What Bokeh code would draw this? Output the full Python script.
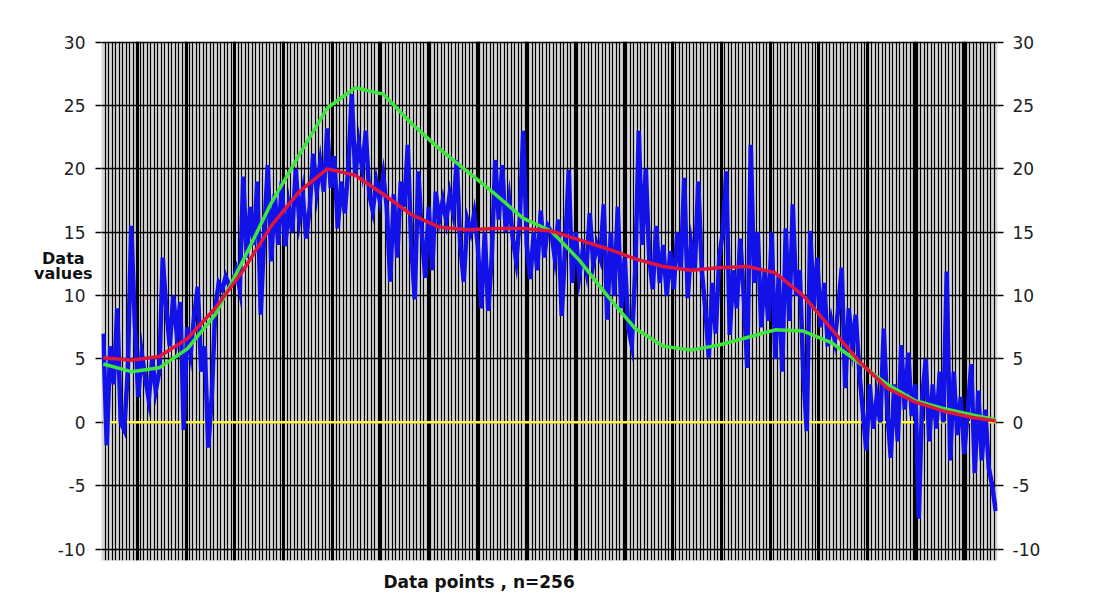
from bokeh.plotting import figure
from bokeh.models import (Range1d, LinearAxis, FixedTicker, Grid, Title, Label,
                          PrintfTickFormatter)
from bokeh.embed import file_html
from bokeh.resources import INLINE

# ---- data -------------------------------------------------------------
blue_values = [
    7, -1.8, 6, 3, 9, 0, -0.6, 4, 15.5, 8, 2, 5.5, 3.5, 1.8, 5, 2.5,
    4, 13, 9, 6, 10, 7, 9.5, -0.6, 7.5, 5.5, 8.5, 10.7, 4, 6, -2, 2,
    9, 11, 10.5, 11.5, 10.8, 11, 12, 10.5, 19.4, 13, 17, 14, 19, 8.5, 15, 20.3,
    12.7, 18, 14, 19, 13.9, 17, 15, 20, 16, 18, 14.5, 17, 21.2, 18.2, 20.5, 18.2,
    23.2, 18.5, 21, 15.3, 19, 16.5, 20, 25.9, 19.5, 22, 20, 23, 18, 16.7, 19, 17.5,
    19.5, 17, 11.1, 18, 13, 19, 17, 21.9, 14, 9.7, 19.8, 15, 11.4, 17, 12, 18.2,
    16, 17.5, 15.9, 18, 16.5, 20.7, 14, 11.1, 16, 15, 16.5, 14, 9, 15, 8.8, 13,
    20.7, 16, 20.3, 15, 17.5, 14.5, 12.7, 16, 23, 14, 11.3, 15, 12, 16.7, 13, 15.5,
    15, 13, 16, 8.4, 14, 19.9, 11, 15, 11.5, 13.5, 12, 16.5, 12.5, 14, 13, 17.2,
    8.1, 15, 10, 17, 9, 13, 7.5, 6.1, 12, 23, 14, 20, 13, 10.5, 15.5, 11,
    14, 10, 13.5, 10.5, 15, 12, 19.3, 9.8, 14, 12, 19, 12, 9, 5.1, 11, 7,
    13, 15, 19.8, 6.9, 12, 9, 14.5, 10, 4.3, 21.9, 11, 15, 7.5, 12, 8, 15,
    5, 11.7, 4, 15.3, 8, 17.2, 10, 12, 4, -0.7, 15.1, 9, 13, 7.5, 11, 6,
    8, 6.5, 9, 12.2, 2.7, 9, 6, 8.5, 4, 1, -2.2, 3, -0.5, 2, 0, 7.4,
    1, -2.8, 3, -1.5, 6.1, 1, 5.5, 0.5, 3, -7.6, 2, 5, -1.5, 3, -0.5, 4,
    0, 11.9, -3, 4, -1, 2, -2.5, 1, 4.6, -4, 2.5, -3, 1, -3.6, -5, -7,
]
blue_x = list(range(len(blue_values)))

smooth_x = [0, 8, 16, 24, 32, 40, 48, 56, 64, 72, 80, 88, 96, 104, 112, 120, 128,
            136, 144, 152, 160, 168, 176, 184, 192, 200, 208, 216, 224, 232, 240, 248, 255]
red_values = [5.1, 4.9, 5.2, 6.6, 9.0, 12.0, 15.5, 18.2, 20.0, 19.5, 18.0, 16.4, 15.4,
              15.2, 15.3, 15.3, 15.1, 14.4, 13.7, 12.9, 12.3, 12.0, 12.2, 12.3, 11.8,
              10.0, 7.4, 4.8, 2.7, 1.6, 0.9, 0.4, 0.1]
green_values = [4.6, 4.0, 4.3, 5.8, 8.5, 12.8, 17.3, 21.1, 24.8, 26.4, 25.9, 23.6, 21.6,
                19.8, 18.0, 16.1, 15.1, 12.8, 10.0, 7.4, 6.0, 5.7, 6.1, 6.7, 7.3,
                7.2, 6.3, 4.7, 3.0, 1.7, 1.1, 0.6, 0.2]

zero_x = [0, 255]
zero_y = [0, 0]

y_ticks = [-10, -5, 0, 5, 10, 15, 20, 25, 30]
x_title = "Data points , n=256"
y_title = ["Data", "values"]

# ---- figure -----------------------------------------------------------
W, H = 1098, 609
FL, FT, FR, FB = 101, 41, 997, 560   # frame edges in page pixels
FONT = "DejaVu Sans"
p = figure(width=W, height=H, output_backend="svg", toolbar_location=None,
           x_range=Range1d(-0.5, 255.5), y_range=Range1d(-10.9, 30.05),
           x_axis_location=None, y_axis_location="left",
           min_border_left=FL, min_border_right=W - FR, min_border_top=FT,
           min_border_bottom=H - FB, background_fill_color="#d6d6d6",
           border_fill_color="white", outline_line_color=None)
p.xgrid.visible = False
p.ygrid.visible = False

# vertical hatch-like grid: one line per category boundary
p.add_layout(Grid(dimension=0, ticker=FixedTicker(ticks=[i - 0.5 for i in range(257)]),
                  grid_line_color="black", grid_line_width=1.2))
p.add_layout(Grid(dimension=0, ticker=FixedTicker(ticks=[9.8 + 13.9 * k for k in range(18)]),
                  grid_line_color="black", grid_line_width=3))
p.add_layout(Grid(dimension=1, ticker=FixedTicker(ticks=y_ticks),
                  grid_line_color="black", grid_line_width=1.6))

def style_axis(ax, standoff):
    ax.ticker = FixedTicker(ticks=y_ticks)
    ax.formatter = PrintfTickFormatter(format="%d")
    ax.axis_line_color = None
    ax.major_tick_line_color = "black"
    ax.major_tick_line_width = 1.5
    ax.major_tick_out = 6
    ax.major_tick_in = 0
    ax.minor_tick_line_color = None
    ax.major_label_text_font = FONT
    ax.major_label_text_font_size = "17px"
    ax.major_label_text_color = "#222222"
    ax.major_label_standoff = standoff

style_axis(p.yaxis[0], 10)
right_axis = LinearAxis()
style_axis(right_axis, 9)
p.add_layout(right_axis, "right")

# ---- series -----------------------------------------------------------
p.line(zero_x, zero_y, line_color="#ffff40", line_width=2.5)
p.line(blue_x, blue_values, line_color="#1212e8", line_width=4.5, line_join="miter")
p.line(smooth_x, green_values, line_color="#3ce63c", line_width=3.5)
p.line(smooth_x, red_values, line_color="#e0143c", line_width=3.5)

# ---- texts ------------------------------------------------------------
bottom = Title(text=x_title, align="left", offset=383 - FL, standoff=18,
               text_font=FONT, text_font_style="bold",
               text_font_size="17px", text_color="#111111")
p.add_layout(bottom, "below")

# y title: labels held in the (empty) top panel so they are not clipped to
# the frame, positioned in data coordinates left of the plot area
lab_style = dict(text_font=FONT, text_font_style="bold",
                 text_font_size="16px", text_color="#111111",
                 text_align="center", text_baseline="middle")
p.add_layout(Label(x=-11.4, y=12.94, text=y_title[0], **lab_style), "above")
p.add_layout(Label(x=-11.4, y=11.76, text=y_title[1], **lab_style), "above")

open("out.html", "w").write(file_html(p, INLINE))
